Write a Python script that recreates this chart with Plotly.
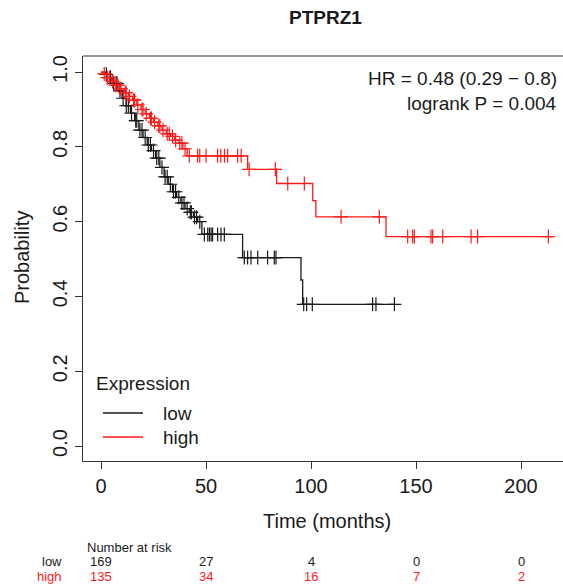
import numpy as np
import plotly.graph_objects as go

# ---------------- data ----------------
low_event_t = [2, 4, 6, 8, 10, 12, 14, 16, 18, 20, 22, 24, 26, 28, 30, 32, 34, 36, 38, 40,
               42, 44, 46, 48, 67.4, 95.2, 96.0]
low_event_s = [0.994, 0.986, 0.97, 0.95, 0.93, 0.91, 0.89, 0.87, 0.845, 0.825, 0.805, 0.79,
               0.77, 0.745, 0.72, 0.70, 0.68, 0.665, 0.65, 0.635, 0.625, 0.612, 0.60, 0.566,
               0.504, 0.444, 0.379]
low_end_t = 139.7
low_censor_t = [2.5, 4.5, 6, 7.5, 9, 10.5, 12, 13, 14.5, 16.5, 17, 18.5, 19.5, 21, 22.5, 23.5,
                25, 26.5, 27.5, 29, 30.5, 31.5, 33, 34.5, 35.5, 37, 38.5, 39.5, 41, 42.5, 43,
                44.5, 45.5, 47, 49.2, 50.8, 51.6, 52.4, 53.1, 55.5, 57.1, 58.7, 68.2, 69.8,
                71.4, 74.6, 79.3, 82.5, 83.3, 96.5, 97.9, 100.6, 129.3, 130.9, 139.7]

high_event_t = [1, 3, 5, 7, 9, 11, 13, 15, 17, 19, 21, 23, 25, 27, 29, 31, 33, 35, 37, 39, 41,
                69.8, 83.6, 100.8, 102.3, 135.7]
high_event_s = [0.995, 0.985, 0.975, 0.965, 0.955, 0.945, 0.935, 0.925, 0.912, 0.90, 0.888,
                0.876, 0.866, 0.856, 0.845, 0.835, 0.828, 0.818, 0.81, 0.795, 0.776, 0.74,
                0.702, 0.656, 0.613, 0.56]
high_end_t = 215
high_censor_t = [1.5, 3, 4, 5.5, 7, 8, 9.5, 11.5, 12, 13.5, 15.5, 16, 17.5, 19.5, 20, 21.5,
                 23.5, 24, 25.5, 27.5, 28, 29.5, 31.5, 32.5, 34, 35.5, 37.5, 38.5, 40, 42, 46,
                 47, 50, 55.5, 57, 58.8, 60.3, 65, 66.7, 70.5, 83, 88.9, 96.8, 114.3, 132.5,
                 146, 148.4, 149.2, 157.1, 157.9, 162.7, 176.2, 179.3, 213]

groups = ["low", "high"]
group_colors = ["#1a1a1a", "#ff1a1a"]
risk_times = [0, 50, 100, 150, 200]
risk_low = [169, 27, 4, 0, 0]
risk_high = [135, 34, 16, 7, 2]
x_ticks = [0, 50, 100, 150, 200]
y_ticks = [0.0, 0.2, 0.4, 0.6, 0.8, 1.0]
title_text = "PTPRZ1"
hr_text = "HR = 0.48 (0.29 − 0.8)"
p_text = "logrank P = 0.004"

# ---------------- geometry ----------------
W, H = 563, 584
L, T, R, B = 83, 56, 0, 123
pw, ph = W - L - R, H - T - B
x_lo = -8.6
x_hi = x_lo + pw / 2.1
y_lo, y_hi = -0.04, 1.043


def px2x(px):
    return (px - L) / pw


def py2y(py):
    return (H - B - py) / ph


def step_xy(ev_t, ev_s, end_t):
    xs = [0] + list(ev_t) + [end_t]
    ys = [1.0] + list(ev_s) + [ev_s[-1]]
    return xs, ys


def surv_at(ev_t, ev_s, t):
    ev_t = np.asarray(ev_t)
    idx = np.searchsorted(ev_t, t, side="right") - 1
    return 1.0 if idx < 0 else ev_s[idx]


fig = go.Figure()
series = [
    (low_event_t, low_event_s, low_end_t, low_censor_t),
    (high_event_t, high_event_s, high_end_t, high_censor_t),
]
for (et, es, end, ct), name, col in zip(series, groups, group_colors):
    xs, ys = step_xy(et, es, end)
    fig.add_trace(go.Scatter(x=xs, y=ys, mode="lines", line=dict(color=col, width=1.3, shape="hv"),
                             name=name, showlegend=False, hoverinfo="skip"))
    cy = [surv_at(et, es, t) for t in ct]
    fig.add_trace(go.Scatter(x=ct, y=cy, mode="markers",
                             marker=dict(symbol="cross-thin", size=10,
                                         line=dict(color=col, width=1.2)),
                             showlegend=False, hoverinfo="skip"))

font_fam = "Liberation Sans, Arial, sans-serif"
txt_col = "#1a1a1a"

fig.update_layout(
    width=W, height=H,
    margin=dict(l=L, r=R, t=T, b=B),
    paper_bgcolor="white", plot_bgcolor="white",
    showlegend=False,
    font=dict(family=font_fam, color=txt_col, size=19),
    xaxis=dict(range=[x_lo, x_hi], tickvals=x_ticks, ticks="outside", ticklen=7,
               tickcolor="#333", showline=True, linecolor="#333", linewidth=1,
               mirror=False, showgrid=False, zeroline=False,
               tickfont=dict(size=20, color=txt_col)),
    yaxis=dict(range=[y_lo, y_hi], tickvals=y_ticks, ticktext=[f"{v:.1f}" for v in y_ticks],
               ticks="outside", ticklen=7, tickcolor="#333", showline=True,
               linecolor="#333", linewidth=1, mirror=False, showgrid=False,
               zeroline=False, tickangle=-90, tickfont=dict(size=20, color=txt_col)),
)

# top border of box
fig.add_shape(type="line", xref="paper", yref="paper", x0=0, x1=1, y0=1, y1=1,
              line=dict(color="#333", width=1))

ann = []
ann.append(dict(text=f"<b>{title_text}</b>", x=px2x(325), y=py2y(18), font=dict(size=19)))
ann.append(dict(text=hr_text, x=px2x(559), y=py2y(78), xanchor="right", font=dict(size=19)))
ann.append(dict(text=p_text, x=px2x(559), y=py2y(104), xanchor="right", font=dict(size=19)))
ann.append(dict(text="Time (months)", x=px2x(327), y=py2y(521), font=dict(size=20)))
ann.append(dict(text="Probability", x=px2x(22), y=py2y(258), textangle=-90, font=dict(size=20)))
# legend
ann.append(dict(text="Expression", x=px2x(94), y=py2y(383), xanchor="left", font=dict(size=19)))
for i, (name, col) in enumerate(zip(groups, group_colors)):
    yy = py2y(413 + 24 * i)
    fig.add_shape(type="line", xref="paper", yref="paper", x0=px2x(103), x1=px2x(143),
                  y0=yy, y1=yy, line=dict(color=col, width=1.3))
    ann.append(dict(text=name, x=px2x(161), y=yy, xanchor="left", font=dict(size=19)))
# number at risk
ann.append(dict(text="Number at risk", x=px2x(85), y=py2y(547), xanchor="left",
                font=dict(size=13)))
for i, (name, col, vals) in enumerate(zip(groups, group_colors, [risk_low, risk_high])):
    yy = py2y(561 + 15 * i)
    ann.append(dict(text=name, x=px2x(64), y=yy, xanchor="right",
                    font=dict(size=13, color=col)))
    for t, v in zip(risk_times, vals):
        ann.append(dict(text=str(v), x=(t - x_lo) / (x_hi - x_lo), y=yy,
                        font=dict(size=13, color=col)))

for a in ann:
    a.setdefault("xanchor", "center")
    a.update(xref="paper", yref="paper", yanchor="middle", showarrow=False)
    fig.add_annotation(**a)

fig.write_html("out.html")
